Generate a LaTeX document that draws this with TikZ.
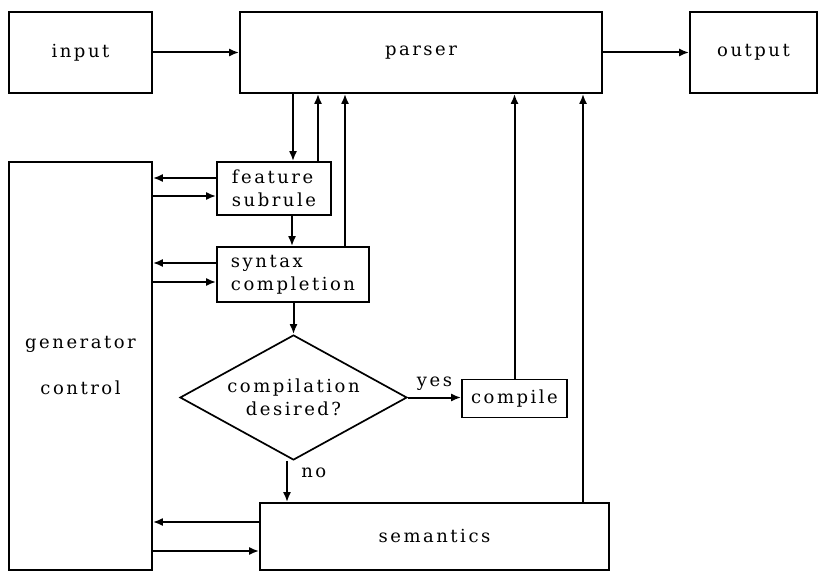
\documentclass[tikz,border=0pt]{standalone}
\usepackage{fontspec}
\setmainfont{DejaVu Serif}[LetterSpace=14]
\usepackage{tikz}
\usetikzlibrary{arrows.meta,shapes.geometric}

\begin{document}
\begin{tikzpicture}[
  x=1pt, y=-1pt,
  font=\fontsize{18}{23}\selectfont,
  box/.style={draw, line width=1.7pt, align=center, inner sep=2pt},
  dec/.style={draw, diamond, line width=1.7pt, align=center, inner sep=0pt, aspect=1.8},
  arr/.style={-{Latex[length=10pt,width=8pt]}, line width=2pt}
]
\useasboundingbox (0,0) rectangle (819,572);
\node[box, minimum width=143pt, minimum height=81pt] (input) at (80.5,52.5) {input};
\node[box, minimum width=362pt, minimum height=81pt] (parser) at (421,52.5) {parser};
\node[box, minimum width=127pt, minimum height=81pt] (output) at (753.5,52.5) {output};
\node[box, minimum width=143pt, minimum height=408pt] (gen) at (80.5,366) {generator\\[23pt]control};
\node[box, align=left, minimum width=114pt, minimum height=53pt] (feat) at (274,188.5) {feature\\subrule};
\node[box, align=left, minimum width=152pt, minimum height=55pt] (syn) at (293,274.5) {syntax\\completion};
\node[dec, minimum width=227pt, minimum height=125pt] (dia) at (293.5,397.5) {compilation\\desired?};
\node[box, minimum width=105pt, minimum height=38pt] (comp) at (514.5,398.5) {compile};
\node[box, minimum width=349pt, minimum height=67pt] (sem) at (434.5,536.5) {semantics};
\draw[arr] (input) -- (parser);
\draw[arr] (parser) -- (output);
\draw[arr] (293,0 |- parser.south) -- (293,0 |- feat.north);
\draw[arr] (318,0 |- feat.north) -- (318,0 |- parser.south);
\draw[arr] (345,0 |- syn.north) -- (345,0 |- parser.south);
\draw[arr] (292,0 |- feat.south) -- (292,0 |- syn.north);
\draw[arr] (feat.west |- 0,178) -- (gen.east |- 0,178);
\draw[arr] (gen.east |- 0,196) -- (feat.west |- 0,196);
\draw[arr] (syn.west |- 0,263) -- (gen.east |- 0,263);
\draw[arr] (gen.east |- 0,282) -- (syn.west |- 0,282);
\draw[arr] (syn.south -| dia.north) -- (dia.north);
\draw[arr] (dia.east) -- node[above=3pt, pos=0.5]{yes} (dia.east -| comp.west);
\draw[arr] (287,0 |- dia.south) -- node[right=10pt, pos=0.3]{no} (287,0 |- sem.north);
\draw[arr] (comp.north) -- (comp.north |- parser.south);
\draw[arr] (583,0 |- sem.north) -- (583,0 |- parser.south);
\draw[arr] (sem.west |- 0,522) -- (gen.east |- 0,522);
\draw[arr] (gen.east |- 0,551) -- (sem.west |- 0,551);
\end{tikzpicture}
\end{document}
